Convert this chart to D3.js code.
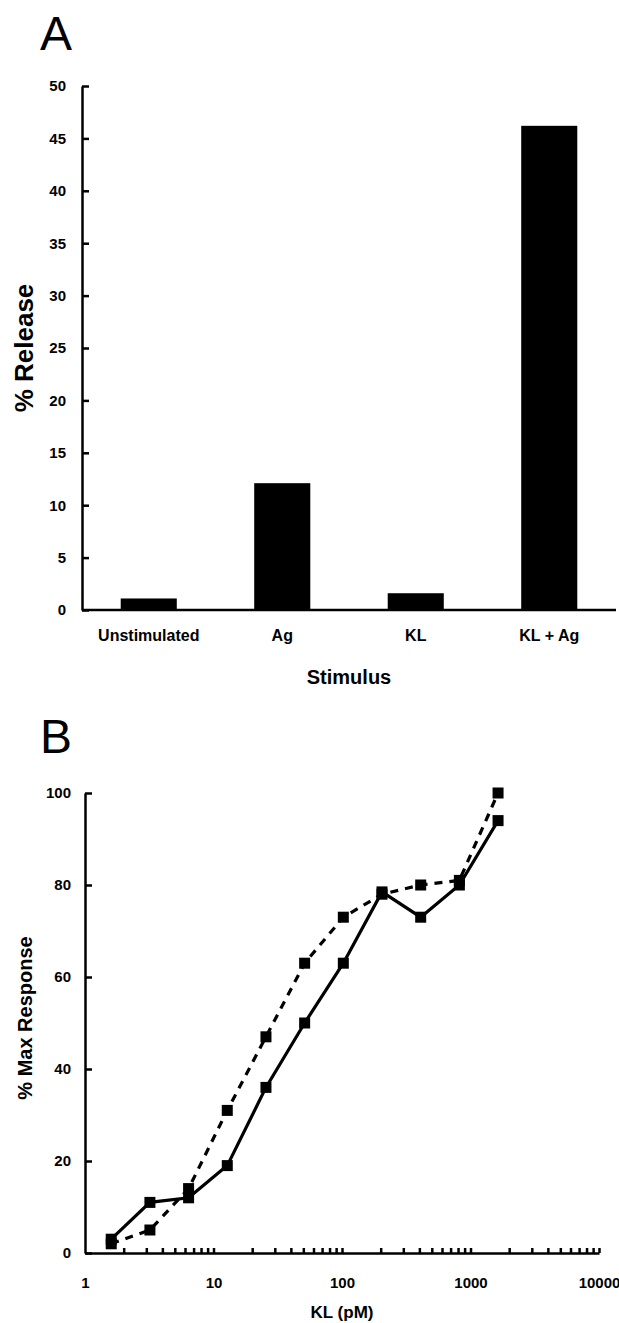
<!DOCTYPE html>
<html>
<head>
<meta charset="utf-8">
<script src="https://cdn.jsdelivr.net/npm/d3@7"></script>
<style>
  body { margin: 0; background: #fff; }
  text { font-family: "Liberation Sans", Arial, sans-serif; fill: #000; }
  .tick text { font-weight: bold; font-size: 15px; }
  .cat .tick text { font-size: 16px; }
  .axis path, .axis line { stroke: #000; stroke-width: 2.5; }
</style>
</head>
<body>
<div id="chart"></div>
<script>
// Panel A data
const stimuli = ["Unstimulated", "Ag", "KL", "KL + Ag"];
const releasePct = [1.1, 12.1, 1.6, 46.2];
const releaseTicks = [0, 5, 10, 15, 20, 25, 30, 35, 40, 45, 50];

// Panel B data
const klDose = [1.6, 3.2, 6.4, 12.8, 25.6, 51.2, 102.4, 204.8, 409.6, 819.2, 1638.4];
const responseSolid = [3, 11, 12, 19, 36, 50, 63, 78.5, 73, 80, 94];
const responseDashed = [2, 5, 14, 31, 47, 63, 73, 78, 80, 81, 100];
const responseTicks = [0, 20, 40, 60, 80, 100];
const klTicks = [1, 10, 100, 1000, 10000];

const width = 619, height = 1323;

const svg = d3.select("#chart").append("svg")
    .attr("width", width)
    .attr("height", height);

// ---------- Panel A ----------
const xA = d3.scaleBand().domain(stimuli).range([82, 616])
    .paddingInner(0.58).paddingOuter(0.29);
const yA = d3.scaleLinear().domain([0, 50]).range([610, 86]);

svg.append("text").attr("x", 40).attr("y", 50)
    .style("font-size", "48px").text("A");

svg.selectAll(".bar")
    .data(stimuli)
    .enter().append("rect")
    .attr("class", "bar")
    .attr("x", d => xA(d))
    .attr("width", xA.bandwidth())
    .attr("y", (d, i) => yA(releasePct[i]))
    .attr("height", (d, i) => yA(0) - yA(releasePct[i]))
    .style("fill", "#000");

svg.append("g").attr("class", "axis")
    .attr("transform", "translate(82,0)")
    .call(d3.axisLeft(yA).tickValues(releaseTicks).tickSizeInner(-7).tickSizeOuter(0).tickPadding(16));

svg.append("g").attr("class", "axis cat")
    .attr("transform", "translate(0,610)")
    .call(d3.axisBottom(xA).tickSize(0).tickPadding(20))
    .call(g => g.select(".domain").attr("d", `M${xA.range()[0]},0H${xA.range()[1]}`));

svg.append("text").attr("x", 349).attr("y", 684)
    .attr("text-anchor", "middle")
    .style("font-weight", "bold").style("font-size", "20px")
    .text("Stimulus");

svg.append("text")
    .attr("transform", "translate(33,348) rotate(-90)")
    .attr("text-anchor", "middle")
    .style("font-weight", "bold").style("font-size", "26px")
    .text("% Release");

// ---------- Panel B ----------
const xB = d3.scaleLog().domain([1, 10000]).range([85, 599]);
const yB = d3.scaleLinear().domain([0, 100]).range([1253, 793]);

svg.append("text").attr("x", 40).attr("y", 753)
    .style("font-size", "48px").text("B");

// minor log ticks (inward)
const minorTicks = xB.ticks().filter(v => v > 1);
svg.append("g").attr("class", "axis")
    .attr("transform", "translate(0,1253)")
    .call(d3.axisBottom(xB).tickValues(minorTicks).tickSizeInner(-5).tickSizeOuter(0).tickFormat(""));

svg.append("g").attr("class", "axis")
    .attr("transform", "translate(0,1253)")
    .call(d3.axisBottom(xB).tickValues(klTicks).tickSize(0).tickPadding(24).tickFormat(d3.format("d")))
    .call(g => g.select(".domain").remove());

svg.append("g").attr("class", "axis")
    .attr("transform", "translate(85,0)")
    .call(d3.axisLeft(yB).tickValues(responseTicks).tickSizeInner(-7).tickSizeOuter(0).tickPadding(14));

const line = d3.line()
    .x((d, i) => xB(klDose[i]))
    .y(d => yB(d));

svg.append("path").datum(responseDashed)
    .attr("d", line)
    .style("fill", "none").style("stroke", "#000")
    .style("stroke-width", 3.2).style("stroke-dasharray", "8,7");

svg.append("path").datum(responseSolid)
    .attr("d", line)
    .style("fill", "none").style("stroke", "#000")
    .style("stroke-width", 3.2);

[responseDashed, responseSolid].forEach((series, k) => {
    svg.selectAll(".pt" + k)
        .data(series)
        .enter().append("rect")
        .attr("class", "pt" + k)
        .attr("x", (d, i) => xB(klDose[i]) - 5.5)
        .attr("y", d => yB(d) - 5.5)
        .attr("width", 11)
        .attr("height", 11)
        .style("fill", "#000");
});

svg.append("text").attr("x", 342).attr("y", 1318)
    .attr("text-anchor", "middle")
    .style("font-weight", "bold").style("font-size", "17px")
    .text("KL (pM)");

svg.append("text")
    .attr("transform", "translate(32,1018) rotate(-90)")
    .attr("text-anchor", "middle")
    .style("font-weight", "bold").style("font-size", "20px")
    .text("% Max Response");
</script>
</body>
</html>
